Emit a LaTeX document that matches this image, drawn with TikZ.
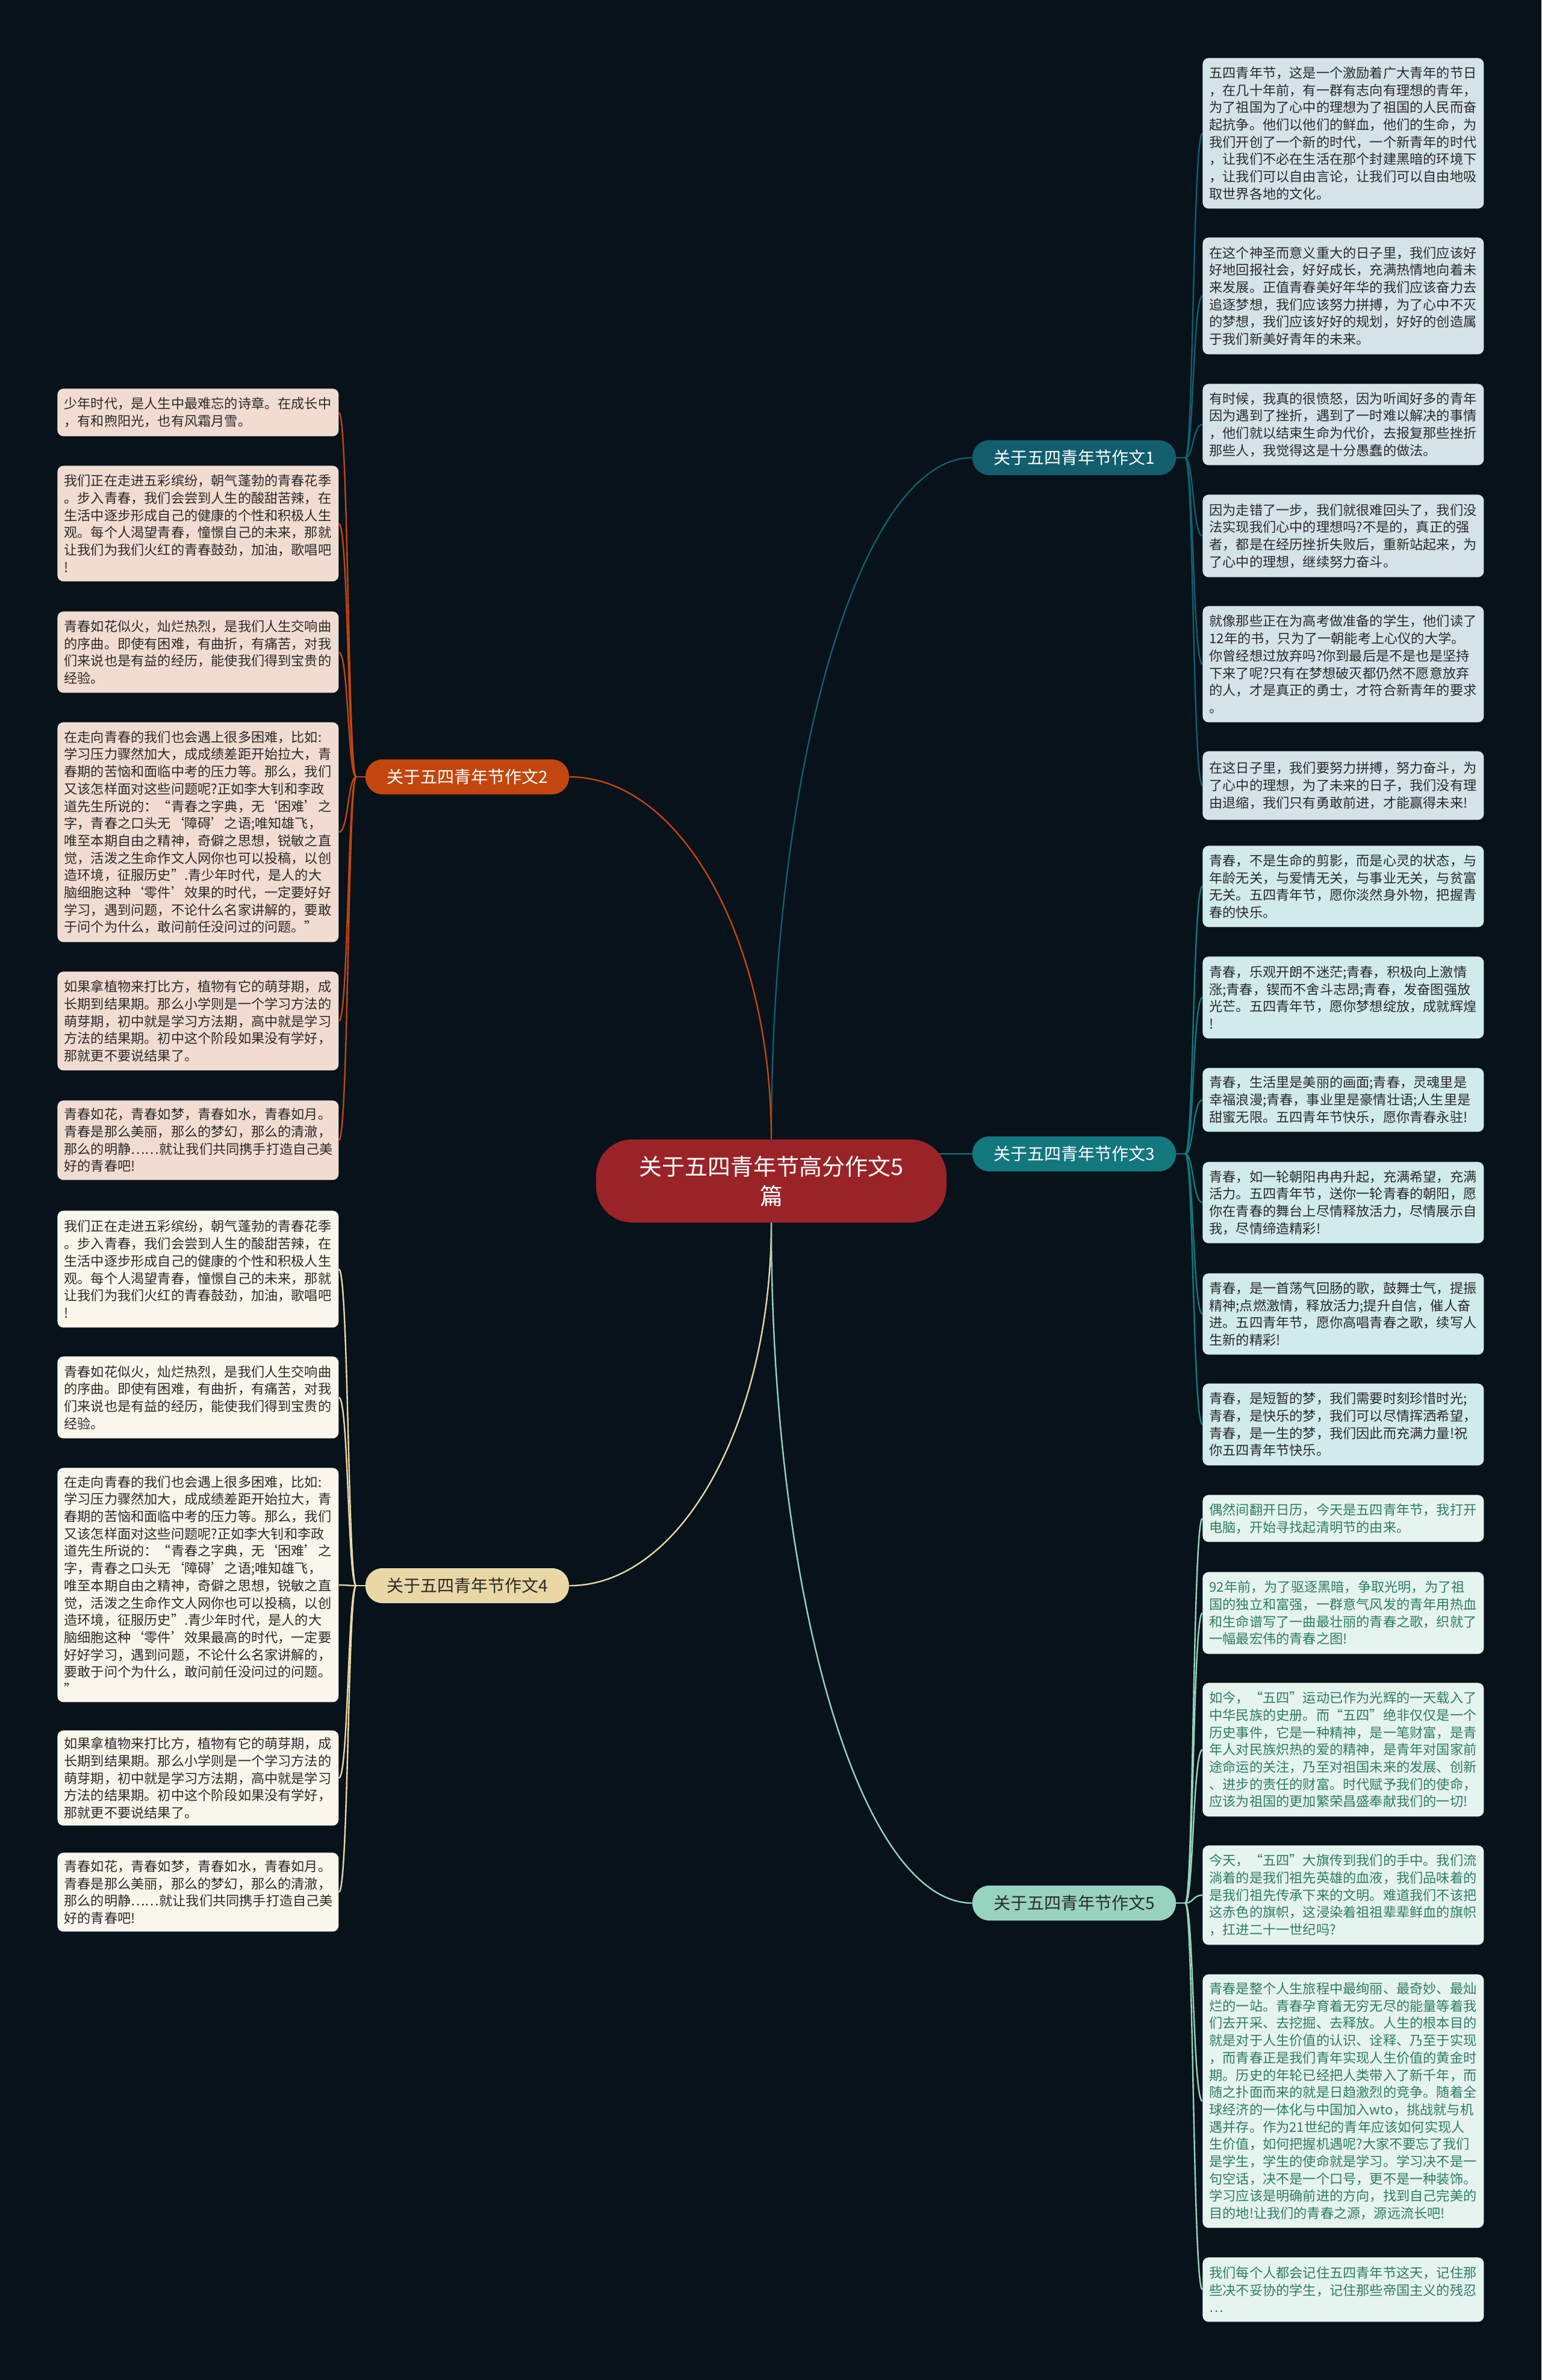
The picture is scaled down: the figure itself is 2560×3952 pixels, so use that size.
\documentclass[tikz,border=0pt]{standalone}
\usepackage{fontspec}
\setmainfont{Noto Sans CJK SC}
\usetikzlibrary{backgrounds}
\definecolor{bg}{HTML}{07121A}
\definecolor{cred}{HTML}{9A2328}
\definecolor{bone}{HTML}{125E6E}
\definecolor{bthree}{HTML}{13787E}
\definecolor{bfive}{HTML}{97D3BF}
\definecolor{btwo}{HTML}{C2460E}
\definecolor{bfour}{HTML}{E9D8A6}
\definecolor{rfill}{HTML}{D4E3E8}
\definecolor{sfill}{HTML}{D1EBEB}
\definecolor{tfill}{HTML}{E6F4EF}
\definecolor{lfill}{HTML}{F2DCD1}
\definecolor{mfill}{HTML}{FBF6EC}
\definecolor{darktext}{HTML}{2A2A2A}
\definecolor{greentext}{HTML}{2E7D61}
\tikzset{
  leaf/.style={rounded corners=5pt, anchor=north west, text width=222.5pt, inner xsep=5.5pt, inner ysep=0pt, align=left, font=\fontsize{11.1pt}{14.35pt}\selectfont},
  rleaf/.style={leaf, fill=rfill, text=darktext},
  sleaf/.style={leaf, fill=sfill, text=darktext},
  tleaf/.style={leaf, fill=tfill, text=greentext},
  lleaf/.style={leaf, fill=lfill, text=darktext},
  mleaf/.style={leaf, fill=mfill, text=darktext},
  branch/.style={rounded corners=14pt, minimum width=169pt, minimum height=29pt, inner sep=0pt, font=\fontsize{14pt}{16pt}\selectfont},
  conn/.style={line width=1.2pt},
}
\begin{document}
\begin{tikzpicture}[x=0.5pt,y=-0.5pt]
\useasboundingbox (0,0) rectangle (2560,3952);
% center
\node[fill=cred, text=white, rounded corners=30pt, minimum width=291pt, minimum height=69pt, inner sep=0pt, align=center, font=\fontsize{19pt}{24.5pt}\selectfont] (c) at (1281,1961) {关于五四青年节高分作文5\\篇};
% branches
\node[branch, fill=bone, text=white] (b1) at (1784,760) {关于五四青年节作文1};
\node[branch, fill=bthree, text=white] (b3) at (1784,1916) {关于五四青年节作文3};
\node[branch, fill=bfive, text=darktext] (b5) at (1784,3160) {关于五四青年节作文5};
\node[branch, fill=btwo, text=white] (b2) at (776,1290) {关于五四青年节作文2};
\node[branch, fill=bfour, text=darktext] (b4) at (776,2633) {关于五四青年节作文4};
% section 1
\node[rleaf, minimum height=125pt] (r1) at (1997,96) {五四青年节，这是一个激励着广大青年的节日\\，在几十年前，有一群有志向有理想的青年，\\为了祖国为了心中的理想为了祖国的人民而奋\\起抗争。他们以他们的鲜血，他们的生命，为\\我们开创了一个新的时代，一个新青年的时代\\，让我们不必在生活在那个封建黑暗的环境下\\，让我们可以自由言论，让我们可以自由地吸\\取世界各地的文化。};
\node[rleaf, minimum height=97pt] (r2) at (1997,394) {在这个神圣而意义重大的日子里，我们应该好\\好地回报社会，好好成长，充满热情地向着未\\来发展。正值青春美好年华的我们应该奋力去\\追逐梦想，我们应该努力拼搏，为了心中不灭\\的梦想，我们应该好好的规划，好好的创造属\\于我们新美好青年的未来。};
\node[rleaf, minimum height=67.5pt] (r3) at (1997,637) {有时候，我真的很愤怒，因为听闻好多的青年\\因为遇到了挫折，遇到了一时难以解决的事情\\，他们就以结束生命为代价，去报复那些挫折\\那些人，我觉得这是十分愚蠢的做法。};
\node[rleaf, minimum height=68.5pt] (r4) at (1997,821) {因为走错了一步，我们就很难回头了，我们没\\法实现我们心中的理想吗?不是的，真正的强\\者，都是在经历挫折失败后，重新站起来，为\\了心中的理想，继续努力奋斗。};
\node[rleaf, minimum height=96.5pt] (r5) at (1997,1006) {就像那些正在为高考做准备的学生，他们读了\\12年的书，只为了一朝能考上心仪的大学。\\你曾经想过放弃吗?你到最后是不是也是坚持\\下来了呢?只有在梦想破灭都仍然不愿意放弃\\的人，才是真正的勇士，才符合新青年的要求\\。};
\node[rleaf, minimum height=57pt] (r6) at (1997,1247) {在这日子里，我们要努力拼搏，努力奋斗，为\\了心中的理想，为了未来的日子，我们没有理\\由退缩，我们只有勇敢前进，才能赢得未来!};
% section 3
\node[sleaf, minimum height=67.5pt] (s1) at (1997,1404) {青春，不是生命的剪影，而是心灵的状态，与\\年龄无关，与爱情无关，与事业无关，与贫富\\无关。五四青年节，愿你淡然身外物，把握青\\春的快乐。};
\node[sleaf, minimum height=68pt] (s2) at (1997,1588) {青春，乐观开朗不迷茫;青春，积极向上激情\\涨;青春，锲而不舍斗志昂;青春，发奋图强放\\光芒。五四青年节，愿你梦想绽放，成就辉煌\\!};
\node[sleaf, minimum height=53pt] (s3) at (1997,1773) {青春，生活里是美丽的画面;青春，灵魂里是\\幸福浪漫;青春，事业里是豪情壮语;人生里是\\甜蜜无限。五四青年节快乐，愿你青春永驻!};
\node[sleaf, minimum height=67.5pt] (s4) at (1997,1929) {青春，如一轮朝阳冉冉升起，充满希望，充满\\活力。五四青年节，送你一轮青春的朝阳，愿\\你在青春的舞台上尽情释放活力，尽情展示自\\我，尽情缔造精彩!};
\node[sleaf, minimum height=67.5pt] (s5) at (1997,2114) {青春，是一首荡气回肠的歌，鼓舞士气，提振\\精神;点燃激情，释放活力;提升自信，催人奋\\进。五四青年节，愿你高唱青春之歌，续写人\\生新的精彩!};
\node[sleaf, minimum height=68pt] (s6) at (1997,2297) {青春，是短暂的梦，我们需要时刻珍惜时光;\\青春，是快乐的梦，我们可以尽情挥洒希望，\\青春，是一生的梦，我们因此而充满力量!祝\\你五四青年节快乐。};
% section 5
\node[tleaf, minimum height=39pt] (t1) at (1997,2482) {偶然间翻开日历，今天是五四青年节，我打开\\电脑，开始寻找起清明节的由来。};
\node[tleaf, minimum height=68pt] (t2) at (1997,2610) {92年前，为了驱逐黑暗，争取光明，为了祖\\国的独立和富强，一群意气风发的青年用热血\\和生命谱写了一曲最壮丽的青春之歌，织就了\\一幅最宏伟的青春之图!};
\node[tleaf, minimum height=111pt] (t3) at (1997,2794) {如今，“五四”运动已作为光辉的一天载入了\\中华民族的史册。而“五四”绝非仅仅是一个\\历史事件，它是一种精神，是一笔财富，是青\\年人对民族炽热的爱的精神，是青年对国家前\\途命运的关注，乃至对祖国未来的发展、创新\\、进步的责任的财富。时代赋予我们的使命，\\应该为祖国的更加繁荣昌盛奉献我们的一切!};
\node[tleaf, minimum height=82.5pt] (t4) at (1997,3064) {今天，“五四”大旗传到我们的手中。我们流\\淌着的是我们祖先英雄的血液，我们品味着的\\是我们祖先传承下来的文明。难道我们不该把\\这赤色的旗帜，这浸染着祖祖辈辈鲜血的旗帜\\，扛进二十一世纪吗?};
\node[tleaf, minimum height=210.5pt] (t5) at (1997,3278) {青春是整个人生旅程中最绚丽、最奇妙、最灿\\烂的一站。青春孕育着无穷无尽的能量等着我\\们去开采、去挖掘、去释放。人生的根本目的\\就是对于人生价值的认识、诠释、乃至于实现\\，而青春正是我们青年实现人生价值的黄金时\\期。历史的年轮已经把人类带入了新千年，而\\随之扑面而来的就是日趋激烈的竞争。随着全\\球经济的一体化与中国加入wto，挑战就与机\\遇并存。作为21世纪的青年应该如何实现人\\生价值，如何把握机遇呢?大家不要忘了我们\\是学生，学生的使命就是学习。学习决不是一\\句空话，决不是一个口号，更不是一种装饰。\\学习应该是明确前进的方向，找到自己完美的\\目的地!让我们的青春之源，源远流长吧!};
\node[tleaf, minimum height=53.5pt] (t6) at (1997,3748) {我们每个人都会记住五四青年节这天，记住那\\些决不妥协的学生，记住那些帝国主义的残忍\\…};
% section 2
\node[lleaf, minimum height=39.5pt] (l1) at (95,645) {少年时代，是人生中最难忘的诗章。在成长中\\，有和煦阳光，也有风霜月雪。};
\node[lleaf, minimum height=96pt] (l2) at (95,773) {我们正在走进五彩缤纷，朝气蓬勃的青春花季\\。步入青春，我们会尝到人生的酸甜苦辣，在\\生活中逐步形成自己的健康的个性和积极人生\\观。每个人渴望青春，憧憬自己的未来，那就\\让我们为我们火红的青春鼓劲，加油，歌唱吧\\!};
\node[lleaf, minimum height=67.5pt] (l3) at (95,1015) {青春如花似火，灿烂热烈，是我们人生交响曲\\的序曲。即使有困难，有曲折，有痛苦，对我\\们来说也是有益的经历，能使我们得到宝贵的\\经验。};
\node[lleaf, minimum height=182.5pt] (l4) at (95,1199) {在走向青春的我们也会遇上很多困难，比如:\\学习压力骤然加大，成成绩差距开始拉大，青\\春期的苦恼和面临中考的压力等。那么，我们\\又该怎样面对这些问题呢?正如李大钊和李政\\道先生所说的：“青春之字典，无‘困难’之\\字，青春之口头无‘障碍’之语;唯知雄飞，\\唯至本期自由之精神，奇僻之思想，锐敏之直\\觉，活泼之生命作文人网你也可以投稿，以创\\造环境，征服历史”.青少年时代，是人的大\\脑细胞这种‘零件’效果的时代，一定要好好\\学习，遇到问题，不论什么名家讲解的，要敢\\于问个为什么，敢问前任没问过的问题。”};
\node[lleaf, minimum height=82pt] (l5) at (95,1613) {如果拿植物来打比方，植物有它的萌芽期，成\\长期到结果期。那么小学则是一个学习方法的\\萌芽期，初中就是学习方法期，高中就是学习\\方法的结果期。初中这个阶段如果没有学好，\\那就更不要说结果了。};
\node[lleaf, minimum height=66pt] (l6) at (95,1827) {青春如花，青春如梦，青春如水，青春如月。\\青春是那么美丽，那么的梦幻，那么的清澈，\\那么的明静……就让我们共同携手打造自己美\\好的青春吧!};
% section 4
\node[mleaf, minimum height=97pt] (m1) at (95,2010) {我们正在走进五彩缤纷，朝气蓬勃的青春花季\\。步入青春，我们会尝到人生的酸甜苦辣，在\\生活中逐步形成自己的健康的个性和积极人生\\观。每个人渴望青春，憧憬自己的未来，那就\\让我们为我们火红的青春鼓劲，加油，歌唱吧\\!};
\node[mleaf, minimum height=68pt] (m2) at (95,2252) {青春如花似火，灿烂热烈，是我们人生交响曲\\的序曲。即使有困难，有曲折，有痛苦，对我\\们来说也是有益的经历，能使我们得到宝贵的\\经验。};
\node[mleaf, minimum height=194.5pt] (m3) at (95,2437) {在走向青春的我们也会遇上很多困难，比如:\\学习压力骤然加大，成成绩差距开始拉大，青\\春期的苦恼和面临中考的压力等。那么，我们\\又该怎样面对这些问题呢?正如李大钊和李政\\道先生所说的：“青春之字典，无‘困难’之\\字，青春之口头无‘障碍’之语;唯知雄飞，\\唯至本期自由之精神，奇僻之思想，锐敏之直\\觉，活泼之生命作文人网你也可以投稿，以创\\造环境，征服历史”.青少年时代，是人的大\\脑细胞这种‘零件’效果最高的时代，一定要\\好好学习，遇到问题，不论什么名家讲解的，\\要敢于问个为什么，敢问前任没问过的问题。\\”};
\node[mleaf, minimum height=79pt] (m4) at (95,2873) {如果拿植物来打比方，植物有它的萌芽期，成\\长期到结果期。那么小学则是一个学习方法的\\萌芽期，初中就是学习方法期，高中就是学习\\方法的结果期。初中这个阶段如果没有学好，\\那就更不要说结果了。};
\node[mleaf, minimum height=65.5pt] (m5) at (95,3076) {青春如花，青春如梦，青春如水，青春如月。\\青春是那么美丽，那么的梦幻，那么的清澈，\\那么的明静……就让我们共同携手打造自己美\\好的青春吧!};
% stub coordinates
\coordinate (b1s) at ([xshift=7.5pt]b1.east);
\coordinate (b3s) at ([xshift=7.5pt]b3.east);
\coordinate (b5s) at ([xshift=7.5pt]b5.east);
\coordinate (b2s) at ([xshift=-7.5pt]b2.west);
\coordinate (b4s) at ([xshift=-7.5pt]b4.west);
\begin{scope}[on background layer]
\fill[bg] (0,0) rectangle (2560,3952);
% center to branches
\draw[conn, bone] (c.north) .. controls +(0,-625) and +(-185,0) .. (b1.west);
\draw[conn, btwo] (c.north) .. controls +(0,-332) and +(185,0) .. (b2.east);
\draw[conn, bfour] (c.south) .. controls +(0,333) and +(185,0) .. (b4.east);
\draw[conn, bfive] (c.south) .. controls +(0,624) and +(-185,0) .. (b5.west);
\draw[conn, bthree] (b3.west) -- (b3.west -| c.center);
% branches to leaves
\draw[conn, bone] (b1.east) -- (b1s);
\foreach \n in {r1,r2,r3,r4,r5,r6} \draw[conn, bone] (b1s) .. controls +(14,0) and +(-16,0) .. (\n.west);
\draw[conn, bthree] (b3.east) -- (b3s);
\foreach \n in {s1,s2,s3,s4,s5,s6} \draw[conn, bthree] (b3s) .. controls +(14,0) and +(-16,0) .. (\n.west);
\draw[conn, bfive] (b5.east) -- (b5s);
\foreach \n in {t1,t2,t3,t4,t5,t6} \draw[conn, bfive] (b5s) .. controls +(14,0) and +(-16,0) .. (\n.west);
\draw[conn, btwo] (b2.west) -- (b2s);
\foreach \n in {l1,l2,l3,l4,l5,l6} \draw[conn, btwo] (b2s) .. controls +(-14,0) and +(16,0) .. (\n.east);
\draw[conn, bfour] (b4.west) -- (b4s);
\foreach \n in {m1,m2,m3,m4,m5} \draw[conn, bfour] (b4s) .. controls +(-14,0) and +(16,0) .. (\n.east);
\end{scope}
\end{tikzpicture}
\end{document}
